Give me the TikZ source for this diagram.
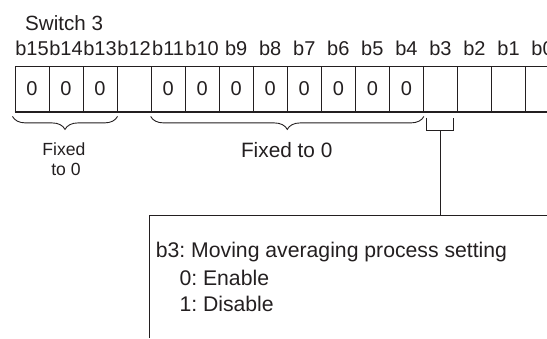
\documentclass[tikz,border=0pt]{standalone}
\usepackage{fontspec}
\setmainfont{Liberation Sans}
\frenchspacing
\usetikzlibrary{decorations.pathreplacing}
\definecolor{ink}{HTML}{231F20}
\tikzset{
  cell/.style={draw=ink, line width=0.9pt, rectangle, inner sep=0pt, minimum width=34.04pt, minimum height=45.3pt, anchor=north west, text=ink, font=\fontsize{20}{24}\selectfont},
  bitlab/.style={inner sep=0pt, anchor=base, text=ink, font=\fontsize{20}{24}\selectfont},
  lbl/.style={inner sep=0pt, text=ink},
  ln/.style={draw=ink, line width=0.9pt},
  brc/.style={draw=ink, line width=0.9pt, decorate, decoration={brace, amplitude=13pt, mirror}},
}
\begin{document}
\begin{tikzpicture}[x=1pt, y=-1pt]
\useasboundingbox (0,0) rectangle (547,338);
\clip (0,0) rectangle (547,338);
\node[lbl, anchor=base west, font=\fontsize{20.6}{24}\selectfont] (title) at (25,30.7) {Switch 3};
\foreach \b/\v [count=\i from 0] in {15/0,14/0,13/0,12/,11/0,10/0,9/0,8/0,7/0,6/0,5/0,4/0,3/,2/,1/,0/} {
  \node[cell] (c\b) at ({14.5+\i*34.04},65.7) {\v};
  \node[bitlab] (l\b) at (c\b.center |- 0,55) {b\b};
}
\draw[ln, line width=1.8pt] (c15.south west) -- (c0.south east);
% braces
\coordinate (b1a) at ([xshift=-2pt,yshift=-4.5pt]c15.south west);
\coordinate (b1b) at ([yshift=-4.5pt]c13.south east);
\draw[brc] (b1a) -- (b1b);
\coordinate (b2a) at ([yshift=-4.5pt]c11.south west);
\coordinate (b2b) at ([yshift=-4.5pt]c4.south east);
\draw[brc] (b2a) -- (b2b);
\node[lbl, anchor=base, font=\fontsize{17.6}{20}\selectfont] (f1) at (64,155) {Fixed};
\node[lbl, anchor=base, font=\fontsize{17.6}{20}\selectfont] (f1b) at (66,175) {to 0};
\node[lbl, anchor=base, font=\fontsize{20.8}{24}\selectfont] (f2) at (286.7,157.3) {Fixed to 0};
% b3 bracket
\coordinate (k1) at (426.7,117.7);
\coordinate (k2) at (426.7,130.7);
\coordinate (k3) at (453.3,130.7);
\coordinate (k4) at (453.3,117.7);
\coordinate (km) at (440,130.7);
\draw[ln] (k1) -- (k2) -- (k3) -- (k4);
\coordinate (bl) at (149.7,338);
\coordinate (tl) at (149.7,215);
\coordinate (tj) at (440,215);
\coordinate (tr) at (547,215);
\draw[ln] (km) -- (tj);
\draw[ln] (bl) -- (tl) -- (tr);
\node[lbl, anchor=base west, font=\fontsize{21.2}{24}\selectfont] (t1) at (155.7,257.3) {b3: Moving averaging process setting};
\node[lbl, anchor=base west, font=\fontsize{21.2}{24}\selectfont] (t2) at (179.3,285) {0: Enable};
\node[lbl, anchor=base west, font=\fontsize{21.2}{24}\selectfont] (t3) at (179.3,311.7) {1: Disable};
\end{tikzpicture}
\end{document}
